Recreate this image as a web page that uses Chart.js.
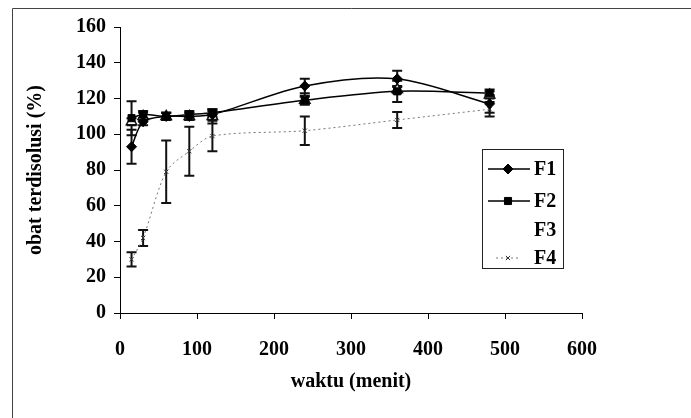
<!DOCTYPE html>
<html>
<head>
<meta charset="utf-8">
<script src="https://cdn.jsdelivr.net/npm/chart.js@4.4.0/dist/chart.umd.min.js"></script>
<style>
  html, body { margin: 0; padding: 0; background: #fff; }
</style>
</head>
<body>
<canvas id="disolusi" width="691" height="418"></canvas>
<script>
// waktu sampling (menit)
const waktu = [15, 30, 60, 90, 120, 240, 360, 480];

// % obat terdisolusi tiap formula, plus SD
const f1 = [93, 107, 110, 110, 111, 127, 131, 117];
const f1Sd = [9.5, 2, 2, 2, 2, 4, 4.5, 5];
const f2 = [109, 111, 110, 111, 112, 119, 124, 123];
const f2Sd = [9.5, 2, 2, 2, 2, 2.5, 6, 2];
const f3 = [107, 110, 110, 110, 110, 119, 125, 122];
const f3Sd = [2, 2, 2, 2, 4, 2, 2, 2];
const f4 = [30, 42, 79, 90.5, 99, 102, 108, 114];
const f4Sd = [4, 4.5, 17.5, 13.7, 8.5, 8, 4.5, 4];

const yTicks = [0, 20, 40, 60, 80, 100, 120, 140, 160];
const xTicks = [0, 100, 200, 300, 400, 500, 600];

const serif = "'Liberation Serif', 'Times New Roman', serif";

function pts(vals) {
  return waktu.map((t, i) => ({ x: t, y: vals[i] }));
}

// page frame of the scanned figure
const frame = {
  id: "frame",
  beforeDraw(chart) {
    const ctx = chart.ctx;
    ctx.save();
    ctx.fillStyle = "#fff";
    ctx.fillRect(0, 0, chart.width, chart.height);
    ctx.strokeStyle = "#444";
    ctx.lineWidth = 1;
    ctx.beginPath();
    ctx.moveTo(12.5, chart.height);
    ctx.lineTo(12.5, 8.5);
    ctx.lineTo(chart.width, 8.5);
    ctx.stroke();
    ctx.restore();
  },
};

// vertical SD bars
const errorBars = {
  id: "errorBars",
  beforeDatasetsDraw(chart) {
    const { ctx } = chart;
    const y = chart.scales.y;
    ctx.save();
    ctx.strokeStyle = "#111";
    ctx.lineWidth = 2;
    chart.data.datasets.forEach((ds, i) => {
      const meta = chart.getDatasetMeta(i);
      meta.data.forEach((pt, j) => {
        const v = ds.data[j].y;
        const e = ds.sd[j];
        const top = y.getPixelForValue(v + e);
        const bot = y.getPixelForValue(v - e);
        ctx.beginPath();
        ctx.moveTo(pt.x, top);
        ctx.lineTo(pt.x, bot);
        ctx.moveTo(pt.x - 5, top);
        ctx.lineTo(pt.x + 5, top);
        ctx.moveTo(pt.x - 5, bot);
        ctx.lineTo(pt.x + 5, bot);
        ctx.stroke();
      });
    });
    ctx.restore();
  },
};

// boxed legend inside the plot, like the Excel one (F3 sample did not print)
const boxLegend = {
  id: "boxLegend",
  afterDraw(chart) {
    const ctx = chart.ctx;
    const bx = 482, by = 149, bw = 81, bh = 119;
    const rows = [169, 201, 230, 258];
    ctx.save();
    ctx.strokeStyle = "#222";
    ctx.lineWidth = 1;
    ctx.strokeRect(bx + 0.5, by + 0.5, bw, bh);
    chart.data.datasets.forEach((ds, i) => {
      const yy = rows[i];
      if (i !== 2) {
        ctx.save();
        ctx.strokeStyle = ds.borderColor;
        ctx.lineWidth = ds.borderWidth;
        if (ds.borderDash) ctx.setLineDash(ds.borderDash);
        ctx.beginPath();
        ctx.moveTo(i === 3 ? 496 : 488, yy);
        ctx.lineTo(i === 3 ? 520 : 530, yy);
        ctx.stroke();
        ctx.restore();
        ctx.save();
        ctx.fillStyle = ds.pointBackgroundColor;
        ctx.strokeStyle = ds.pointBorderColor;
        ctx.lineWidth = ds.pointBorderWidth;
        Chart.helpers.drawPoint(ctx, {
          pointStyle: ds.pointStyle,
          radius: ds.pointRadius,
          borderWidth: ds.pointBorderWidth,
        }, 508, yy);
        ctx.restore();
      }
      ctx.fillStyle = "#000";
      ctx.font = "bold 20px " + serif;
      ctx.textBaseline = "middle";
      ctx.fillText(ds.label, 534, yy + 1);
    });
    ctx.restore();
  },
};

const ctx = document.getElementById("disolusi").getContext("2d");
const chart = new Chart(ctx, {
  type: "scatter",
  data: {
    datasets: [
      {
        label: "F1",
        data: pts(f1),
        sd: f1Sd,
        showLine: true,
        tension: 0.3,
        borderColor: "#000",
        borderWidth: 1.5,
        pointStyle: "rectRot",
        pointRadius: 5,
        pointBorderWidth: 1,
        pointBackgroundColor: "#000",
        pointBorderColor: "#000",
      },
      {
        label: "F2",
        data: pts(f2),
        sd: f2Sd,
        showLine: true,
        tension: 0.3,
        borderColor: "#000",
        borderWidth: 1.5,
        pointStyle: "rect",
        pointRadius: 5,
        pointBorderWidth: 1,
        pointBackgroundColor: "#000",
        pointBorderColor: "#000",
      },
      {
        label: "F3",
        data: pts(f3),
        sd: f3Sd,
        showLine: true,
        tension: 0.3,
        borderColor: "rgba(255,255,255,0)",
        borderWidth: 1,
        pointStyle: "triangle",
        pointRadius: 6,
        pointBorderWidth: 1.5,
        pointBackgroundColor: "#fff",
        pointBorderColor: "#111",
      },
      {
        label: "F4",
        data: pts(f4),
        sd: f4Sd,
        showLine: true,
        tension: 0.3,
        borderColor: "#777",
        borderWidth: 1,
        borderDash: [2, 3],
        pointStyle: "crossRot",
        pointRadius: 3,
        pointBorderWidth: 1,
        pointBackgroundColor: "#333",
        pointBorderColor: "#333",
      },
    ],
  },
  options: {
    responsive: false,
    animation: false,
    devicePixelRatio: 1,
    layout: { padding: { top: 27, right: 109, bottom: 0, left: 0 } },
    plugins: {
      legend: { display: false },
      tooltip: { enabled: false },
    },
    scales: {
      x: {
        type: "linear",
        min: 0,
        max: 600,
        afterFit: (s) => { s.height = 105; },
        afterBuildTicks: (s) => { s.ticks = xTicks.map((v) => ({ value: v })); },
        ticks: {
          color: "#000",
          padding: 19,
          font: { family: serif, size: 20, weight: "bold" },
        },
        grid: { drawOnChartArea: false, drawTicks: true, tickLength: 6, color: "#000" },
        border: { color: "#000", width: 1 },
        title: {
          display: true,
          text: "waktu (menit)",
          color: "#000",
          font: { family: serif, size: 20, weight: "bold" },
          padding: { top: 0, bottom: 24 },
        },
      },
      y: {
        min: 0,
        max: 160,
        afterFit: (s) => { s.width = 120; },
        afterBuildTicks: (s) => { s.ticks = yTicks.map((v) => ({ value: v })); },
        ticks: {
          color: "#000",
          padding: 8,
          font: { family: serif, size: 20, weight: "bold" },
        },
        grid: { drawOnChartArea: false, drawTicks: true, tickLength: 6, color: "#000" },
        border: { color: "#000", width: 1 },
        title: {
          display: true,
          text: "obat terdisolusi (%)",
          color: "#000",
          font: { family: serif, size: 20, weight: "bold" },
          padding: { top: 24, bottom: 0 },
        },
      },
    },
  },
  plugins: [frame, errorBars, boxLegend],
});
</script>
</body>
</html>
